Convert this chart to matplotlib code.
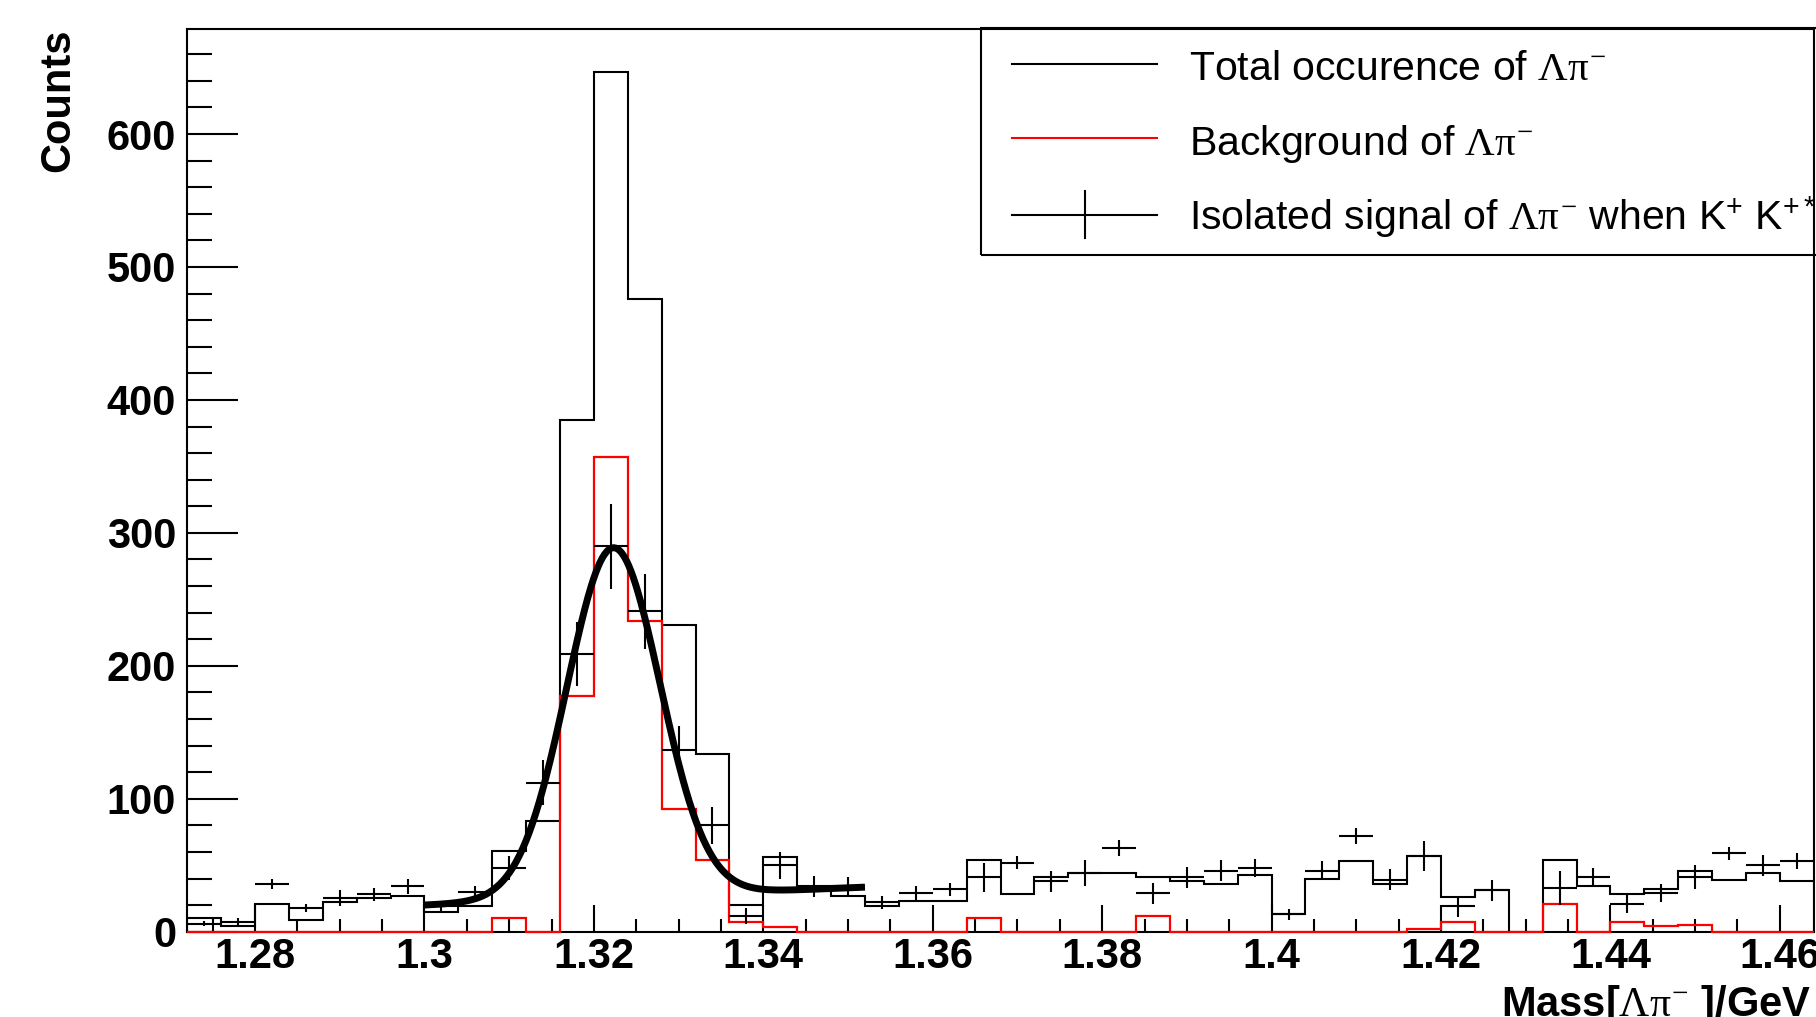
import numpy as np
import matplotlib
matplotlib.use('Agg')
import matplotlib.pyplot as plt
from matplotlib.ticker import MultipleLocator, FuncFormatter
from matplotlib.patches import Rectangle
from matplotlib.lines import Line2D

plt.rcParams['font.family'] = ['Liberation Sans', 'DejaVu Sans']
plt.rcParams['font.weight'] = 'bold'
plt.rcParams['mathtext.fontset'] = 'custom'
plt.rcParams['mathtext.rm'] = 'Liberation Serif:weight=normal:style=normal'
plt.rcParams['mathtext.it'] = 'Liberation Serif:weight=normal:style=normal'
plt.rcParams['mathtext.bf'] = 'Liberation Serif:weight=bold'

# ---------------- data ----------------
bin_low = 1.272
bin_width = 0.004
x_range = (1.272, 1.464)
y_range = (0, 679)

total_counts = [10.5, 4, 21, 9, 22, 25, 27, 15, 19, 61,
                83, 385, 647, 476, 231, 134, 20, 56, 33, 27,
                19, 23, 23, 54, 28, 41, 44, 44, 41, 38,
                36, 43, 13, 40, 53, 36, 57, 26, 31, 0,
                54, 34, 28, 32, 46, 39, 44, 38]

background_counts = [0, 0, 0, 0, 0, 0, 0, 0, 0, 10,
                     0, 177, 357, 234, 92, 54, 7.5, 3.8, 0, 0,
                     0, 0, 0, 10, 0, 0, 0, 0, 12, 0,
                     0, 0, 0, 0, 0, 0, 2.2, 7, 0, 0,
                     21, 0, 7, 4, 5, 0, 0, 0]

signal_counts = [6, 7, 36, 18, 25, 28, 34, 19, 30, 48,
                 112, 209, 290, 241, 137, 80, 12, 50, 34, 34,
                 22, 29, 32, 41, 52, 38, 44, 63, 29, 41,
                 46, 48, 13, 46, 72, 39, 57, 19, 31, np.nan,
                 33, 41, 21, 29, 41, 59, 50, 53]

signal_errors = [2, 3, 4, 3, 6, 5, 6, 4, 4, 9,
                 17, 24, 32, 28, 18, 14, 6, 10, 8, 7,
                 5, 5, 5, 11, 5, 8, 10, 6, 8, 8,
                 8, 7, 4, 7, 6, 8, 11, 8, 8, 0,
                 13, 7, 7, 7, 9, 5, 8, 6]

# Gaussian + linear background fit shown on the plot
fit_amp = 263.0
fit_mean = 1.3223
fit_sigma = 0.0055
fit_bkg0 = 20.0
fit_bkg1 = 260.0
fit_xmin = 1.300
fit_xmax = 1.352

# ---------------- figure ----------------
W, H = 1816, 1017
fig = plt.figure(figsize=(W / 100, H / 100), dpi=100)
ax_left, ax_right, ax_top, ax_bottom = 187.3, 1813.7, 29.0, 931.7
ax = fig.add_axes([ax_left / W, 1 - ax_bottom / H,
                   (ax_right - ax_left) / W, (ax_bottom - ax_top) / H])

n = len(total_counts)
edges = bin_low + bin_width * np.arange(n + 1)
centers = 0.5 * (edges[:-1] + edges[1:])

ax.stairs(total_counts, edges, color='black', lw=1.5, zorder=2)
ax.stairs(background_counts, edges, color='red', lw=1.6, zorder=3, clip_on=False)
ax.errorbar(centers, signal_counts, xerr=bin_width / 2, yerr=signal_errors,
            fmt='none', ecolor='black', elinewidth=1.5, capsize=0, zorder=4)

xf = np.linspace(fit_xmin, fit_xmax, 400)
yf = fit_amp * np.exp(-0.5 * ((xf - fit_mean) / fit_sigma) ** 2) + fit_bkg0 + fit_bkg1 * (xf - fit_xmin)
ax.plot(xf, yf, color='black', lw=5.0, zorder=5, solid_capstyle='butt')

ax.set_xlim(*x_range)
ax.set_ylim(*y_range)

for s in ax.spines.values():
    s.set_linewidth(1.5)

ax.xaxis.set_major_locator(MultipleLocator(0.02))
ax.xaxis.set_minor_locator(MultipleLocator(0.005))
ax.yaxis.set_major_locator(MultipleLocator(100))
ax.yaxis.set_minor_locator(MultipleLocator(20))
ax.xaxis.set_major_formatter(FuncFormatter(lambda v, p: '%g' % round(v, 4)))
ax.yaxis.set_major_formatter(FuncFormatter(lambda v, p: '%d' % round(v)))

ax.tick_params(which='both', direction='in', top=False, right=False, width=1.5)
ax.tick_params(axis='x', which='major', length=19.4, labelsize=30, pad=4)
ax.tick_params(axis='x', which='minor', length=9.4)
ax.tick_params(axis='y', which='major', length=36.7, labelsize=30, pad=8)
ax.tick_params(axis='y', which='minor', length=18)


def fx(x):
    return x / W


def fy(y):
    return 1 - y / H


# axis titles
fig.text(fx(58.7), fy(29), 'Counts', rotation=90, ha='center', va='top',
         fontsize=30, fontweight='bold')
fig.text(fx(1811), fy(1016), 'Mass[$\\Lambda\\pi^{-}$ ]/GeV', ha='right', va='baseline',
         fontsize=30, fontweight='bold')

# legend
leg_left, leg_top, leg_bottom = 980.7, 28.3, 255.0
fig.add_artist(Rectangle((fx(leg_left), fy(leg_bottom)), (W + 20 - leg_left) / W,
                         (leg_bottom - leg_top) / H, transform=fig.transFigure,
                         fill=False, edgecolor='black', lw=1.5, clip_on=False))
lx0, lx1 = 1011.9, 1156.5
rows = [64.3, 138.3, 215.0]
fig.add_artist(Line2D([fx(lx0), fx(lx1)], [fy(rows[0])] * 2, color='black', lw=1.5,
                      transform=fig.transFigure))
fig.add_artist(Line2D([fx(lx0), fx(lx1)], [fy(rows[1])] * 2, color='red', lw=1.5,
                      transform=fig.transFigure))
fig.add_artist(Line2D([fx(lx0), fx(lx1)], [fy(rows[2])] * 2, color='black', lw=1.5,
                      transform=fig.transFigure))
fig.add_artist(Line2D([fx(1084.5), fx(1084.5)], [fy(190.7), fy(238.3)], color='black', lw=1.5,
                      transform=fig.transFigure))

legend_labels = ['Total occurence of $\\Lambda\\pi^{-}$',
                 'Background of $\\Lambda\\pi^{-}$',
                 'Isolated signal of $\\Lambda\\pi^{-}$ when K$^{\\mathregular{+}}$ K$^{\\mathregular{+*}}$']
baselines = [80, 155, 230]
for lab, b in zip(legend_labels, baselines):
    fig.text(fx(1189), fy(b), lab, ha='left', va='baseline', fontsize=29.5, fontweight='normal')

fig.savefig('out.png', dpi=100)
